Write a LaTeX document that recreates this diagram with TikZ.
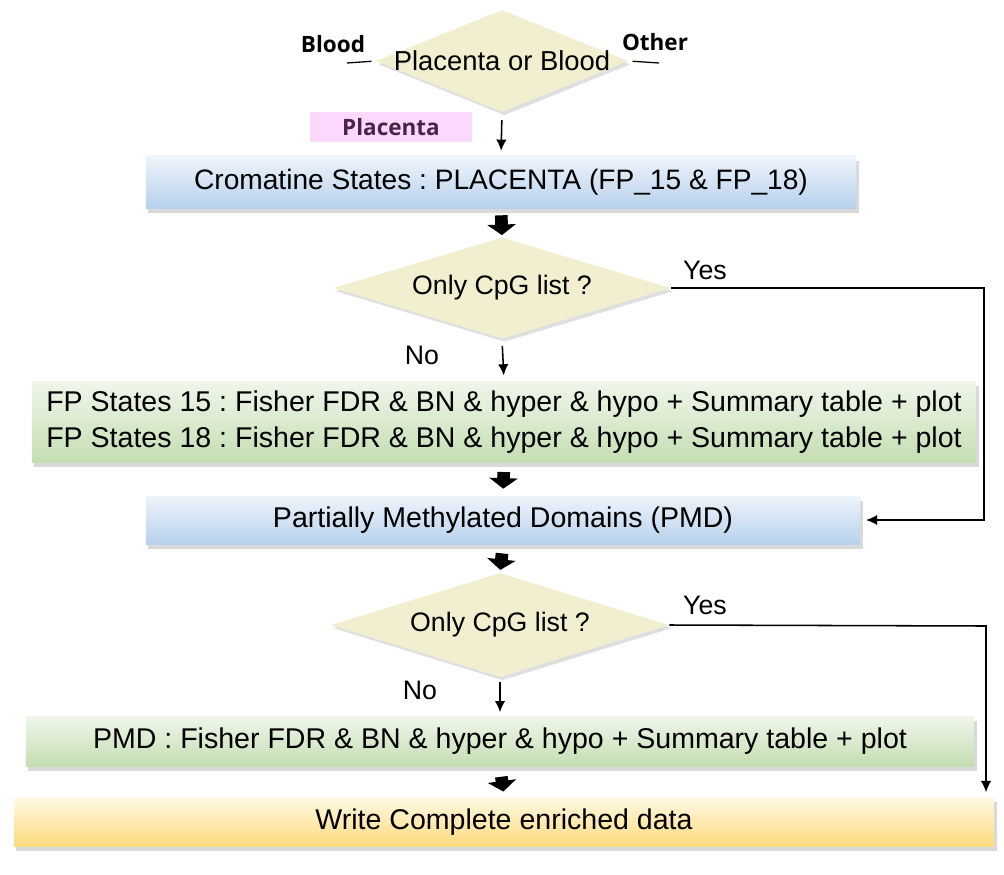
\documentclass[tikz,border=0pt]{standalone}
\usepackage{fontspec}
\setmainfont{Liberation Sans}
\newfontfamily\tagfont{Open Sans}
\usetikzlibrary{arrows.meta,shapes.geometric,shadows}
\frenchspacing

\definecolor{decfill}{HTML}{F2EFD0}
\definecolor{bluetop}{HTML}{EEF4FB}
\definecolor{bluebot}{HTML}{B7D1EC}
\definecolor{greentop}{HTML}{F0F6EA}
\definecolor{greenbot}{HTML}{C3DEB2}
\definecolor{goldtop}{HTML}{FFF9E4}
\definecolor{goldbot}{HTML}{FDDA7C}
\definecolor{tagpink}{HTML}{FCD9FC}
\definecolor{tagtext}{HTML}{4A2448}

\begin{document}
\begin{tikzpicture}[x=0.025cm, y=-0.025cm, >={Latex[length=2.8mm,width=2.6mm]},
	every node/.style={font=\fontsize{19}{23}\selectfont},
	decision/.style={diamond, fill=decfill, inner xsep=-2.2cm, inner ysep=-0.5cm, aspect=3,
		drop shadow={shadow xshift=0.6mm, shadow yshift=-0.8mm, opacity=0.25}},
	stage/.style={rectangle, inner sep=0pt, align=center, font=\fontsize{20.3}{23}\selectfont,
		drop shadow={shadow xshift=0.6mm, shadow yshift=-1.2mm, opacity=0.3}},
	bluestage/.style={stage, top color=bluetop, bottom color=bluebot},
	greenstage/.style={stage, top color=greentop, bottom color=greenbot},
	goldstage/.style={stage, top color=goldtop, bottom color=goldbot},
	flow/.style={->, line width=1.1pt},
	bigarrow/.style={-{Triangle[width=20pt,length=7.5pt]}, line width=9pt},
	branch/.style={font=\tagfont\bfseries\fontsize{16}{19}\selectfont}]
	\useasboundingbox (0,0) rectangle (1004,874);

	% decisions and stages
	\node[decision, minimum width=6.3cm, minimum height=2.55cm, font=\fontsize{19.5}{23}\selectfont] (place) at (502,61) {Placenta or Blood};
	\node[bluestage, minimum width=17.75cm, minimum height=1.3cm, font=\fontsize{20}{23}\selectfont] (crom) at (501,182) {Cromatine States : PLACENTA (FP\_15 \& FP\_18)};
	\node[decision, minimum width=8.425cm, minimum height=2.525cm] (only1) at (502,288) {Only CpG list ?};
	\node[greenstage, minimum width=23.6cm, minimum height=2.03cm] (fp) at (504,422)
		{FP States 15 : Fisher FDR \& BN \& hyper \& hypo + Summary table + plot\\[3pt]
		 FP States 18 : Fisher FDR \& BN \& hyper \& hypo + Summary table + plot};
	\node[bluestage, minimum width=17.85cm, minimum height=1.2cm] (pmd) at (503,520) {Partially Methylated Domains (PMD)};
	\node[decision, minimum width=8.45cm, minimum height=2.6cm] (only2) at (500,625) {Only CpG list ?};
	\node[greenstage, minimum width=23.7cm, minimum height=1.25cm] (pmdstat) at (500,741) {PMD : Fisher FDR \& BN \& hyper \& hypo + Summary table + plot};
	\node[goldstage, minimum width=24.5cm, minimum height=1.23cm] (write) at (504,822) {Write Complete enriched data};

	% branch labels
	\node[branch] (blood) at (333,44) {Blood};
	\node[branch] (other) at (655,42) {Other};
	\node[fill=tagpink, minimum width=4.05cm, minimum height=0.73cm, text=tagtext,
		font=\tagfont\bfseries\fontsize{16}{19}\selectfont] (tag) at (391,127) {Placenta};
	\node (yes1) at (705,270) {Yes};
	\node (no1) at (422,355) {No};
	\node (yes2) at (705,605) {Yes};
	\node (no2) at (420,690) {No};

	\coordinate (bl) at (347,63);
	\coordinate (ot) at (659,63);
	\coordinate (r1) at (984,288);
	\coordinate (r2) at (986,626);

	% connectors
	\draw[line width=0.9pt, shorten <=3pt] (place.west) -- (bl);
	\draw[line width=0.9pt, shorten <=3pt] (place.east) -- (ot);
	\draw[flow, shorten <=5.5pt, shorten >=3.5pt] (place.south) -- (crom.north);
	\draw[bigarrow, shorten <=5pt, shorten >=1.5pt] (crom.south) -- (only1.north);
	\draw[flow, shorten <=5pt, shorten >=4pt] (only1.south) -- (fp.north);
	\draw[flow] (only1.east) -- (only1.east -| r1) |- ([xshift=4pt]pmd.east);
	\draw[bigarrow, shorten <=6.5pt, shorten >=5pt] (fp.south) -- (pmd.north);
	\draw[bigarrow, shorten <=6.5pt, shorten >=2pt] (pmd.south) -- (only2.north);
	\draw[flow, shorten <=3pt, shorten >=2.5pt] (only2.south) -- (pmdstat.north);
	\draw[flow, shorten >=3.5pt] (only2.east) -- (r2) -- (r2 |- write.north);
	\draw[bigarrow, shorten <=7.5pt, shorten >=4pt] (pmdstat.south) -- (write.north);
\end{tikzpicture}
\end{document}
